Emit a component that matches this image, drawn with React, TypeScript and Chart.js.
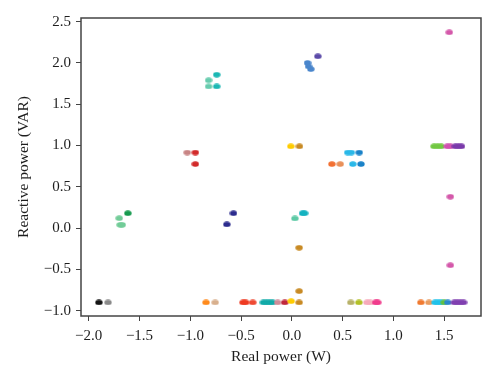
import React, { useEffect, useRef } from "react";
import { Chart, registerables } from "chart.js";

Chart.register(...registerables);

const realPower = [
  -1.90, -1.81, -1.70, -1.69, -1.67, -1.615,
  -1.03, -0.95, -0.95,
  -0.82, -0.82, -0.74, -0.74,
  -0.845, -0.755,
  -0.64, -0.575,
  -0.48, -0.455, -0.385,
  -0.28, -0.25, -0.22, -0.19,
  -0.14, -0.07, -0.007,
  -0.01, 0.075, 0.072, 0.072, 0.072,
  0.03, 0.105, 0.125,
  0.154, 0.164, 0.187, 0.256,
  0.394, 0.476,
  0.55, 0.585, 0.60,
  0.663, 0.68,
  0.58, 0.66, 0.74, 0.77, 0.825, 0.845,
  1.27, 1.35, 1.41, 1.44, 1.47, 1.50, 1.535, 1.60, 1.63, 1.66, 1.69,
  1.40, 1.435, 1.47, 1.53, 1.56, 1.61, 1.64, 1.67,
  1.55, 1.56, 1.56,
];

const reactivePower = [
  -0.90, -0.90, 0.12, 0.04, 0.04, 0.18,
  0.915, 0.915, 0.775,
  1.79, 1.715, 1.857, 1.715,
  -0.90, -0.90,
  0.045, 0.18,
  -0.90, -0.90, -0.90,
  -0.90, -0.90, -0.90, -0.90,
  -0.90, -0.90, -0.885,
  0.99, 0.99, -0.237, -0.763, -0.90,
  0.117, 0.18, 0.18,
  2.0, 1.958, 1.925, 2.08,
  0.775, 0.775,
  0.915, 0.915, 0.775,
  0.915, 0.775,
  -0.90, -0.90, -0.90, -0.90, -0.90, -0.90,
  -0.90, -0.90, -0.90, -0.90, -0.90, -0.90, -0.90, -0.90, -0.90, -0.90, -0.90,
  0.99, 0.99, 0.99, 0.99, 0.99, 0.99, 0.99, 0.99,
  2.37, 0.38, -0.45,
];

const pointColors = [
  "#141414", "#8a8a8a", "#72cc98", "#72cc98", "#72cc98", "#169a4e",
  "#c88484", "#d22a2a", "#d22a2a",
  "#68ccae", "#68ccae", "#1cb8b4", "#1cb8b4",
  "#ff8a1c", "#d8b08e",
  "#2c2c8e", "#2c2c8e",
  "#ee3a22", "#ee3a22", "#ee4a34",
  "#12aaa8", "#12aaa8", "#12aaa8", "#12aaa8",
  "#d08c98", "#c0283c", "#ffcc00",
  "#ffcc00", "#c88a24", "#c88a24", "#c88a24", "#c88a24",
  "#5ecaa6", "#14b2c0", "#14b2c0",
  "#4a86cc", "#4a86cc", "#4a86cc", "#5b4aa8",
  "#f27032", "#e8905a",
  "#2ab8e8", "#2ab8e8", "#2ab8e8",
  "#1a82c8", "#1a82c8",
  "#b8b26a", "#b2c026", "#f6aabb", "#f6aabb", "#f03c8c", "#f03c8c",
  "#f07a30", "#e89c60", "#22c2ea", "#22c2ea", "#22c2ea", "#62c040", "#2a88cc", "#8040b0", "#8040b0", "#8040b0", "#8040b0",
  "#72c842", "#72c842", "#72c842", "#d052b0", "#d052b0", "#7a3aaa", "#7a3aaa", "#7a3aaa",
  "#d458aa", "#d458aa", "#d458aa",
];

const xTicks = [-2.0, -1.5, -1.0, -0.5, 0.0, 0.5, 1.0, 1.5];
const yTicks = [-1.0, -0.5, 0.0, 0.5, 1.0, 1.5, 2.0, 2.5];

const xTitle = "Real power (W)";
const yTitle = "Reactive power (VAR)";

function makeMarker(color: string): HTMLCanvasElement {
  const c = document.createElement("canvas");
  c.width = 8;
  c.height = 6;
  const ctx = c.getContext("2d")!;
  ctx.fillStyle = color;
  ctx.beginPath();
  ctx.ellipse(4, 3, 3.7, 2.7, 0, 0, Math.PI * 2);
  ctx.fill();
  return c;
}

const fmt = (v: number) => v.toFixed(1).replace("-", "\u2212");

const framePlugin = {
  id: "frame",
  afterDraw(chart: any) {
    const { ctx, chartArea } = chart;
    ctx.save();
    ctx.strokeStyle = "#444";
    ctx.lineWidth = 1.5;
    ctx.strokeRect(chartArea.left, chartArea.top, chartArea.right - chartArea.left, chartArea.bottom - chartArea.top);
    ctx.restore();
  },
};

export default function App() {
  const ref = useRef<HTMLCanvasElement>(null);
  useEffect(() => {
    if (!ref.current) return;
    const font = { family: "'Liberation Serif', serif", size: 15 };
    const chart = new Chart(ref.current, {
      type: "scatter",
      data: {
        datasets: [
          {
            data: realPower.map((x, i) => ({ x, y: reactivePower[i] })),
            pointStyle: pointColors.map(makeMarker) as any,
            backgroundColor: pointColors,
            borderColor: pointColors,
          },
        ],
      },
      options: {
        animation: false,
        responsive: false,
        events: [],
        layout: { padding: { top: 18, right: 19, left: 0, bottom: 0 } },
        plugins: { legend: { display: false }, tooltip: { enabled: false } },
        scales: {
          x: {
            type: "linear",
            min: -2.076,
            max: 1.862,
            afterBuildTicks: (s: any) => { s.ticks = xTicks.map((value) => ({ value })); },
            afterFit: (s: any) => { s.height = 65; },
            border: { display: false },
            grid: { drawOnChartArea: false, drawTicks: true, tickLength: 5, color: "#444", lineWidth: 1 },
            ticks: { font, color: "#1e1e1e", padding: 6, maxRotation: 0, callback: (v: any) => fmt(Number(v)) },
            title: { display: true, text: xTitle, font: { ...font, size: 15.5 }, color: "#1e1e1e", padding: { top: 0, bottom: 15 } },
          },
          y: {
            type: "linear",
            min: -1.064,
            max: 2.544,
            afterBuildTicks: (s: any) => { s.ticks = yTicks.map((value) => ({ value })); },
            afterFit: (s: any) => { s.width = 81; },
            border: { display: false },
            grid: { drawOnChartArea: false, drawTicks: true, tickLength: 5, color: "#444", lineWidth: 1 },
            ticks: { font, color: "#1e1e1e", padding: 5, callback: (v: any) => fmt(Number(v)) },
            title: { display: true, text: yTitle, font: { ...font, size: 15.5 }, color: "#1e1e1e", padding: { top: 15, bottom: 0 } },
          },
        },
      },
      plugins: [framePlugin],
    });
    return () => chart.destroy();
  }, []);
  return (
    <div style={{ position: "fixed", left: 0, top: 0, width: 500, height: 381, background: "#fff" }}>
      <canvas ref={ref} width={500} height={381} style={{ display: "block" }} />
    </div>
  );
}
